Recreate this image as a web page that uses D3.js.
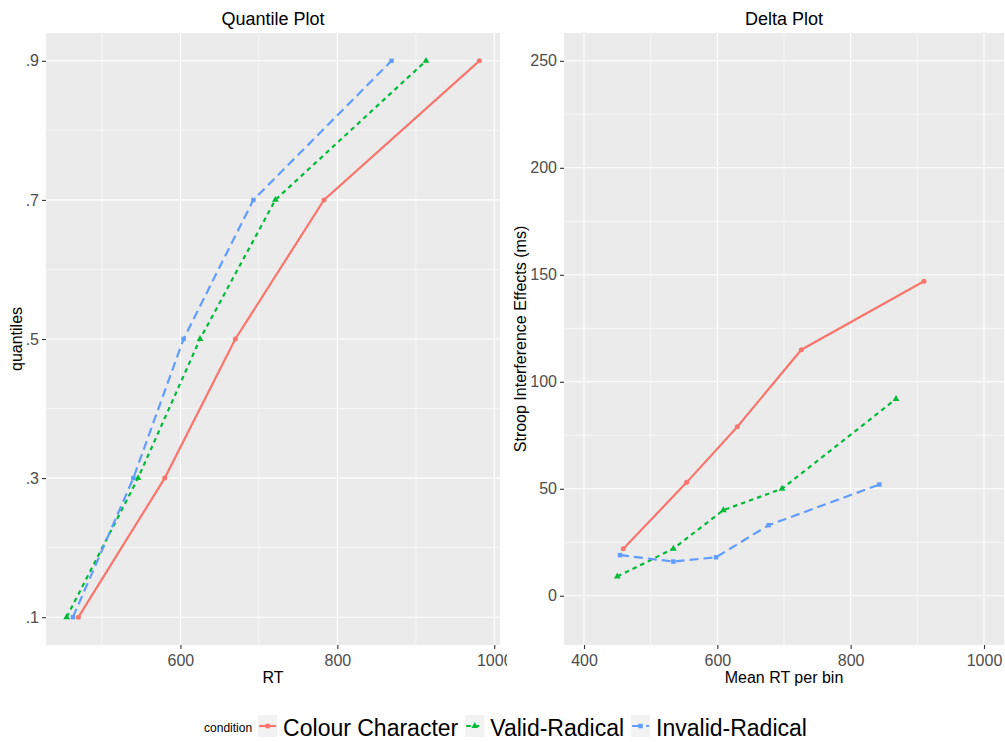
<!DOCTYPE html>
<html lang="en">
<head>
<meta charset="UTF-8">
<title>Quantile and Delta Plot</title>
<script src="https://d3js.org/d3.v7.min.js"></script>
<style>
    body { margin: 0; background: #fff; }
    svg { display: block; font-family: "Liberation Sans", Arial, sans-serif; }
    .tick-label { fill: #4d4d4d; font-size: 16px; }
    .axis-title { fill: #000; font-size: 16px; }
    .plot-title { fill: #000; font-size: 18px; }
</style>
</head>
<body>
<svg width="1005" height="742"></svg>
<script>
    // conditions
    const conditions = ["Colour Character", "Valid-Radical", "Invalid-Radical"];
    const colors = ["#F8766D", "#00BA38", "#619CFF"];

    // quantile plot: RT at each quantile
    const quantiles = [0.1, 0.3, 0.5, 0.7, 0.9];
    const quantileLabels = [".1", ".3", ".5", ".7", ".9"];
    const qColour = [470, 580, 670, 783, 981];
    const qValid = [455, 546, 625, 721, 913];
    const qInvalid = [463, 540, 604, 693, 869];

    // delta plot: mean RT per bin vs interference effect
    const dColourX = [459, 554, 630, 726, 910];
    const dColourY = [22, 53, 79, 115, 147];
    const dValidX = [450, 534, 609, 697, 868];
    const dValidY = [9, 22, 40, 50, 92];
    const dInvalidX = [454, 534, 598, 677, 843];
    const dInvalidY = [19, 16, 18, 33, 52];

    const deltaXTicks = [400, 600, 800, 1000];
    const deltaYTicks = [0, 50, 100, 150, 200, 250];
    const deltaXLimits = [400, 1000];
    const deltaYLimits = [-10, 250];
    const rtTicks = [600, 800, 1000];

    const dashes = [null, "4.5,4", "9,5"];
    const symbols = [d3.symbolCircle, d3.symbolTriangle, d3.symbolSquare];

    const svg = d3.select("svg");

    // ggplot style 5% expansion
    function expand(ext) {
        const pad = (ext[1] - ext[0]) * 0.05;
        return [ext[0] - pad, ext[1] + pad];
    }

    function drawPanel(opts) {
        const g = svg.append("g");
        const x = opts.x, y = opts.y;
        const [x0, x1] = x.range();
        const [y1, y0] = y.range();

        g.append("rect")
            .attr("x", x0).attr("y", y0)
            .attr("width", x1 - x0).attr("height", y1 - y0)
            .attr("fill", "#ebebeb");

        // minor grid
        g.selectAll(".minor-x").data(opts.minorX).enter().append("line")
            .attr("x1", d => x(d)).attr("x2", d => x(d))
            .attr("y1", y0).attr("y2", y1)
            .attr("stroke", "#fff").attr("stroke-width", 0.55);
        g.selectAll(".minor-y").data(opts.minorY).enter().append("line")
            .attr("y1", d => y(d)).attr("y2", d => y(d))
            .attr("x1", x0).attr("x2", x1)
            .attr("stroke", "#fff").attr("stroke-width", 0.55);

        // major grid
        g.selectAll(".major-x").data(opts.xTicks).enter().append("line")
            .attr("x1", d => x(d)).attr("x2", d => x(d))
            .attr("y1", y0).attr("y2", y1)
            .attr("stroke", "#fff").attr("stroke-width", 1.1);
        g.selectAll(".major-y").data(opts.yTicks).enter().append("line")
            .attr("y1", d => y(d)).attr("y2", d => y(d))
            .attr("x1", x0).attr("x2", x1)
            .attr("stroke", "#fff").attr("stroke-width", 1.1);

        // axes
        const xAxis = d3.axisBottom(x).tickValues(opts.xTicks).tickSize(4).tickPadding(3)
            .tickFormat(d3.format("d"));
        const xg = g.append("g")
            .attr("transform", `translate(0,${y1})`)
            .call(xAxis);
        if (opts.clipId) xg.attr("clip-path", `url(#${opts.clipId})`);

        const yAxis = d3.axisLeft(y).tickValues(opts.yTicks).tickSize(4).tickPadding(3)
            .tickFormat(opts.yFormat);
        const yg = g.append("g")
            .attr("transform", `translate(${x0},0)`)
            .call(yAxis);

        [xg, yg].forEach(a => {
            a.select(".domain").remove();
            a.selectAll(".tick line").attr("stroke", "#333").attr("stroke-width", 1.1);
            a.selectAll(".tick text").attr("class", "tick-label")
                .attr("fill", null).style("font-size", "16px")
                .style("font-family", "'Liberation Sans', Arial, sans-serif");
        });
        xg.selectAll(".tick text").attr("dy", "0.9em");

        // series
        const line = d3.line().x(d => x(d[0])).y(d => y(d[1]));
        opts.series.forEach((s, i) => {
            g.append("path")
                .datum(s)
                .attr("d", line)
                .attr("fill", "none")
                .attr("stroke", colors[i])
                .attr("stroke-width", 2.2)
                .attr("stroke-dasharray", dashes[i]);
            g.selectAll(".pt" + i).data(s).enter().append("path")
                .attr("transform", d => `translate(${x(d[0])},${y(d[1])})`)
                .attr("d", d3.symbol().type(symbols[i]).size(20))
                .attr("fill", colors[i]);
        });

        // titles
        const cx = (x0 + x1) / 2;
        g.append("text").attr("class", "plot-title")
            .attr("x", cx).attr("y", 25)
            .attr("text-anchor", "middle").text(opts.title);
        g.append("text").attr("class", "axis-title")
            .attr("x", cx).attr("y", 683)
            .attr("text-anchor", "middle").text(opts.xTitle);
        g.append("text").attr("class", "axis-title")
            .attr("transform", `translate(${opts.yTitleX},${(y0 + y1) / 2}) rotate(-90)`)
            .attr("text-anchor", "middle").text(opts.yTitle);
    }

    // clip for the left panel x labels (1000 gets cut)
    svg.append("defs").append("clipPath").attr("id", "leftClip")
        .append("rect").attr("x", 0).attr("y", 0).attr("width", 507).attr("height", 742);

    // Quantile plot
    const qSeries = [qColour, qValid, qInvalid].map(arr => arr.map((v, i) => [v, quantiles[i]]));
    const allRT = qColour.concat(qValid, qInvalid);
    const qx = d3.scaleLinear().domain(expand(d3.extent(allRT))).range([46, 500]);
    const qy = d3.scaleLinear().domain(expand(d3.extent(quantiles))).range([645, 33]);

    drawPanel({
        x: qx, y: qy,
        xTicks: rtTicks,
        yTicks: quantiles,
        minorX: [500, 700, 900],
        minorY: [0.2, 0.4, 0.6, 0.8],
        yFormat: (d, i) => quantileLabels[i],
        series: qSeries,
        title: "Quantile Plot",
        xTitle: "RT",
        yTitle: "quantiles",
        yTitleX: 22,
        clipId: "leftClip"
    });

    // Delta plot
    const dSeries = [
        dColourX.map((v, i) => [v, dColourY[i]]),
        dValidX.map((v, i) => [v, dValidY[i]]),
        dInvalidX.map((v, i) => [v, dInvalidY[i]])
    ];
    const dx = d3.scaleLinear().domain(expand(deltaXLimits)).range([564, 1004]);
    const dy = d3.scaleLinear().domain(expand(deltaYLimits)).range([645, 33]);

    drawPanel({
        x: dx, y: dy,
        xTicks: deltaXTicks,
        yTicks: deltaYTicks,
        minorX: [500, 700, 900],
        minorY: [25, 75, 125, 175, 225],
        yFormat: d3.format("d"),
        series: dSeries,
        title: "Delta Plot",
        xTitle: "Mean RT per bin",
        yTitle: "Stroop Interference Effects (ms)",
        yTitleX: 526
    });

    // legend
    const legend = svg.append("g");
    const condLabel = legend.append("text")
        .attr("x", 0).attr("y", 732)
        .style("font-size", "12px").attr("fill", "#000")
        .text("condition");
    let cursor = condLabel.node().getComputedTextLength() + 6;
    conditions.forEach((c, i) => {
        const key = legend.append("g").attr("transform", `translate(${cursor},715)`);
        key.append("rect").attr("width", 19).attr("height", 22).attr("fill", "#f2f2f2");
        key.append("line")
            .attr("x1", 1).attr("x2", 18).attr("y1", 11).attr("y2", 11)
            .attr("stroke", colors[i]).attr("stroke-width", 2.2)
            .attr("stroke-dasharray", dashes[i]);
        key.append("path")
            .attr("transform", "translate(9.5,11)")
            .attr("d", d3.symbol().type(symbols[i]).size(20))
            .attr("fill", colors[i]);
        cursor += 19 + 6;
        const t = legend.append("text")
            .attr("x", cursor).attr("y", 736)
            .style("font-size", "23px").attr("fill", "#000")
            .text(c);
        cursor += t.node().getComputedTextLength() + 7;
    });
    const legendWidth = cursor - 7;
    legend.attr("transform", `translate(${505.5 - legendWidth / 2},0)`);
</script>
</body>
</html>
